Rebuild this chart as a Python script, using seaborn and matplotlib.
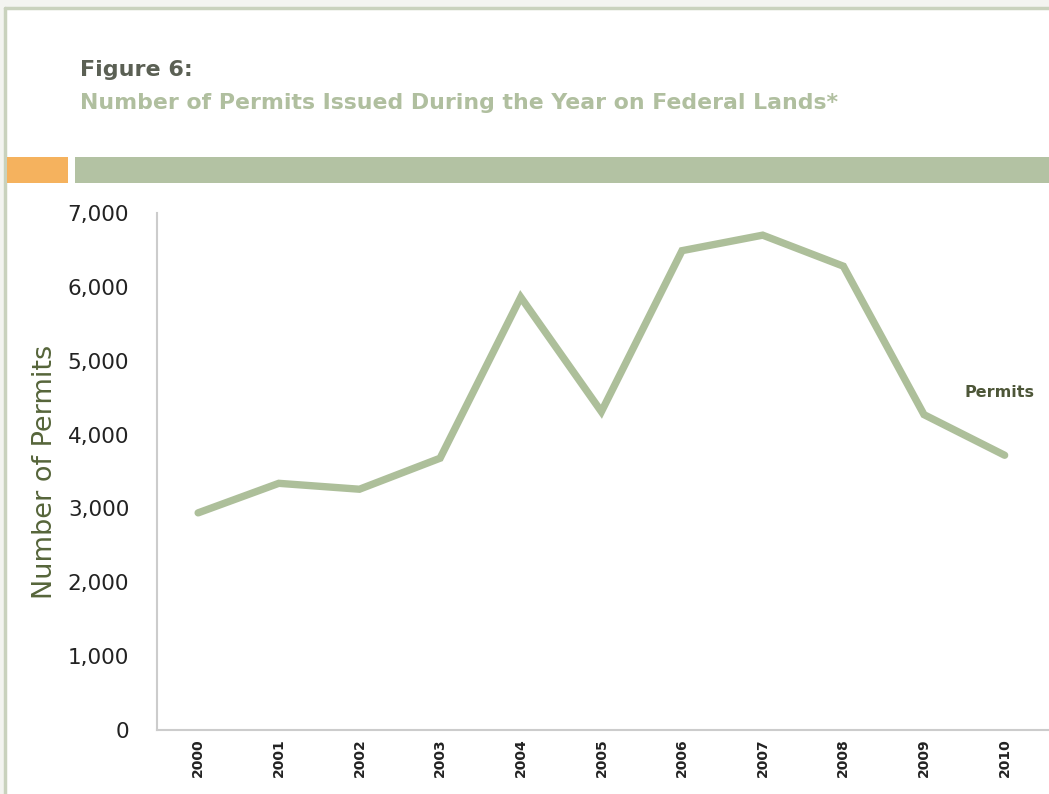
import matplotlib
matplotlib.use("Agg")
import matplotlib.pyplot as plt
from matplotlib.patches import Rectangle
from matplotlib.lines import Line2D
import seaborn as sns
import pandas as pd

years = [2000, 2001, 2002, 2003, 2004, 2005, 2006, 2007, 2008, 2009, 2010]
permits = [2940, 3340, 3260, 3680, 5860, 4310, 6490, 6700, 6280, 4270, 3720]
y_ticks = [0, 1000, 2000, 3000, 4000, 5000, 6000, 7000]

fig_title = "Figure 6:"
subtitle = "Number of Permits Issued During the Year on Federal Lands*"
y_label = "Number of Permits"
series_label = "Permits"

sage = "#adbf9a"
bar_green = "#b3c2a3"
orange = "#f5b25e"
olive = "#56653a"

sns.set_theme(style="white")
plt.rcParams["font.family"] = ["DejaVu Sans"]

W, H = 1049, 794
fig = plt.figure(figsize=(W / 100, H / 100), dpi=100)
fig.patch.set_facecolor("#f3f4f0")

# white page with a thin sage border
fig.patches.append(Rectangle((5 / W, 0), 1.0, 1 - 8 / H, transform=fig.transFigure,
                             facecolor="white", edgecolor="none", zorder=-3))
fig.lines.append(Line2D([5 / W, 5 / W], [0, 1 - 8 / H], transform=fig.transFigure,
                        color="#c9d2bd", lw=2.5, zorder=-2))
fig.lines.append(Line2D([5 / W, 1], [1 - 8 / H, 1 - 8 / H], transform=fig.transFigure,
                        color="#c9d2bd", lw=2.5, zorder=-2))

# header bars
fig.patches.append(Rectangle((7 / W, 1 - 183 / H), 61 / W, 26 / H, transform=fig.transFigure,
                             facecolor=orange, edgecolor="none", zorder=-1))
fig.patches.append(Rectangle((75 / W, 1 - 183 / H), (W - 75) / W, 26 / H,
                             transform=fig.transFigure,
                             facecolor=bar_green, edgecolor="none", zorder=-1))

fig.text(80 / W, 1 - 70 / H, fig_title, fontsize=16, fontweight="bold",
         color="#5b6054", va="center", ha="left")
fig.text(80 / W, 1 - 103 / H, subtitle, fontsize=15.8, fontweight="bold",
         color="#b0bf9f", va="center", ha="left")

ax = fig.add_axes([157 / W, 1 - 730 / H, 1 - 157 / W, (730 - 213) / H])
ax.set_facecolor("none")

df = pd.DataFrame({"Year": years, "Permits": permits})
sns.lineplot(data=df, x="Year", y="Permits", ax=ax, color=sage, linewidth=5.3,
             solid_joinstyle="miter", solid_capstyle="round")

ax.set_xlim(1999.49, 2010.55)
ax.set_ylim(0, 7000)
ax.set_yticks(y_ticks)
ax.set_yticklabels([f"{v:,}" for v in y_ticks], fontsize=15.5, color="#222222")
ax.set_xticks(years)
ax.set_xticklabels([str(y) for y in years], rotation=90, fontsize=10,
                   color="#222222", fontweight="bold")
ax.tick_params(axis="y", pad=20, length=0)
ax.tick_params(axis="x", pad=6, length=0)
ax.set_xlabel("")
ax.set_ylabel(y_label, fontsize=19.5, color=olive, labelpad=7)

for side in ("top", "right"):
    ax.spines[side].set_visible(False)
for side in ("left", "bottom"):
    ax.spines[side].set_color("#cccccc")
    ax.spines[side].set_linewidth(1.5)

ax.text(2009.94, 4573, series_label, fontsize=11.5, fontweight="bold",
        color="#4d5638", ha="center", va="center")

fig.savefig("out.png", dpi=100)
